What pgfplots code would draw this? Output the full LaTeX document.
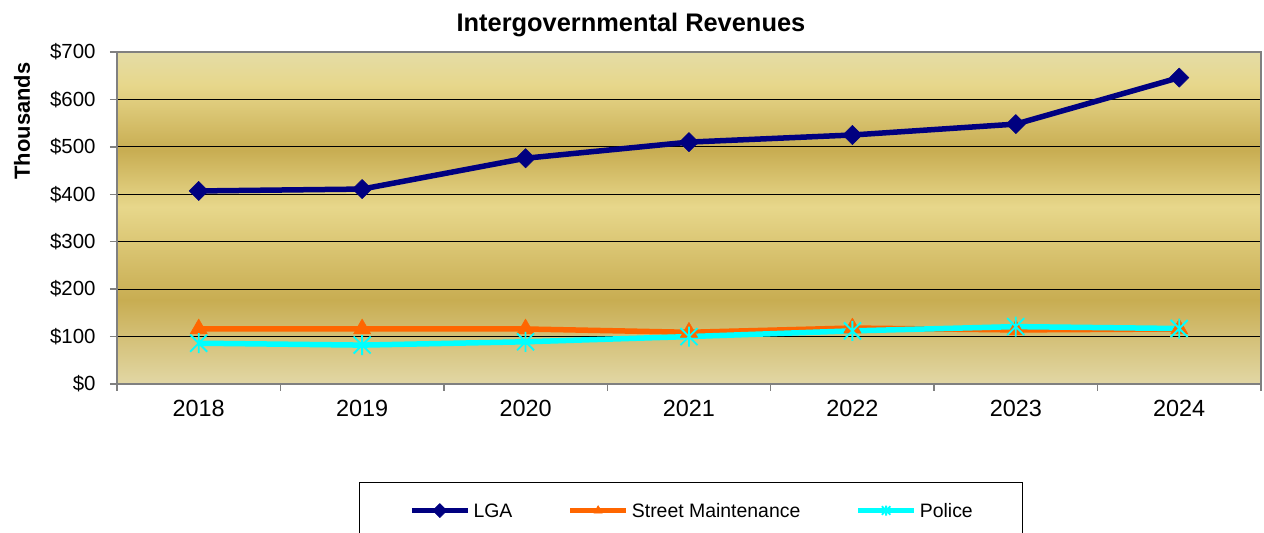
\documentclass[border=0pt]{standalone}
\usepackage{pgfplots}
\pgfplotsset{compat=1.18}
\usepackage{fontspec}
\setmainfont{Liberation Sans}
\definecolor{gtop}{RGB}{228,220,166}
\definecolor{glight}{RGB}{231,215,139}
\definecolor{gdark}{RGB}{200,173,82}
\definecolor{gbot}{RGB}{226,215,165}
\definecolor{lga}{RGB}{0,0,128}
\definecolor{stm}{RGB}{255,102,0}
\definecolor{pol}{RGB}{0,255,255}
\definecolor{axgray}{RGB}{128,128,128}
\pgfdeclareverticalshading{goldbg}{100bp}{color(0bp)=(gbot); color(25bp)=(gbot); color(37.7bp)=(gdark); color(51.7bp)=(glight); color(60.2bp)=(gdark); color(70bp)=(glight); color(75bp)=(gtop); color(100bp)=(gtop)}
\pgfdeclareplotmark{xstar}{%
 \pgfpathmoveto{\pgfqpoint{0pt}{\pgfplotmarksize}}\pgfpathlineto{\pgfqpoint{0pt}{-\pgfplotmarksize}}%
 \pgfpathmoveto{\pgfqpoint{-.85\pgfplotmarksize}{.85\pgfplotmarksize}}\pgfpathlineto{\pgfqpoint{.85\pgfplotmarksize}{-.85\pgfplotmarksize}}%
 \pgfpathmoveto{\pgfqpoint{-.85\pgfplotmarksize}{-.85\pgfplotmarksize}}\pgfpathlineto{\pgfqpoint{.85\pgfplotmarksize}{.85\pgfplotmarksize}}%
 \pgfusepathqstroke}
\begin{document}
\begin{tikzpicture}
\useasboundingbox (0,0) rectangle (1264bp,533bp);
\begin{axis}[
  at={(117bp,149bp)}, anchor=south west,
  width=1144bp, height=332bp, scale only axis,
  xmin=-0.5, xmax=6.5, ymin=0, ymax=700,
  xtick={-0.5,0.5,1.5,2.5,3.5,4.5,5.5,6.5},
  x tick label as interval,
  xticklabels={2018,2019,2020,2021,2022,2023,2024},
  ytick={0,100,200,300,400,500,600,700},
  yticklabels={\$0,\$100,\$200,\$300,\$400,\$500,\$600,\$700},
  xtick pos=bottom, ytick pos=left,
  tick align=outside, major tick length=7bp,
  tick style={axgray, line width=1.5bp},
  axis line style={axgray, line width=1.5bp},
  ymajorgrids, grid style={black, line width=0.9bp},
  axis background/.style={shading=goldbg},
  x tick label style={font=\fontsize{23.5}{28}\selectfont, yshift=-6bp},
  y tick label style={font=\fontsize{20.5}{24}\selectfont, xshift=-11bp},
  title={Intergovernmental Revenues},
  every axis title/.style={at={(0.4493,1)}, anchor=base, yshift=20bp, font=\bfseries\fontsize{25.5}{30}\selectfont},
  ylabel={Thousands},
  every axis y label/.style={at={(-0.0830,0.792)}, rotate=90, anchor=center, font=\bfseries\fontsize{22}{26}\selectfont},
  legend columns=3,
  legend style={at={(0.5017,-0.2952)}, anchor=north, draw=black, line width=1bp,
    inner xsep=50bp, inner ysep=21bp, font=\fontsize{19.5}{23}\selectfont,
    nodes={inner sep=0pt, text depth=0pt},
    /tikz/every even column/.append style={column sep=55bp},
    /tikz/every odd column/.append style={column sep=3bp}},
  legend image code/.code={\draw[#1, mark=none] (0bp,0bp) -- (56bp,0bp); \draw[#1, mark size=5bp] plot coordinates {(28bp,0bp)};},
]
\addplot[lga, line width=5.5bp, line join=round, mark=square*, mark size=6.8bp, mark options={rotate=45, fill=lga, draw=lga, line width=0.5bp}]
  coordinates {(0,407) (1,411) (2,476) (3,510) (4,525) (5,548) (6,646)};
\addlegendentry{LGA}
\addplot[stm, line width=5.5bp, line join=round, mark=triangle*, mark size=10bp, mark options={fill=stm, draw=stm, line width=0.5bp}]
  coordinates {(0,116) (1,116) (2,116) (3,109) (4,118) (5,114) (6,116)};
\addlegendentry{Street Maintenance}
\addplot[pol, line width=5.5bp, line join=round, mark=xstar, mark size=10bp, mark options={draw=pol, line width=1.8bp}]
  coordinates {(0,86) (1,82) (2,89) (3,100) (4,112) (5,121) (6,117)};
\addlegendentry{Police}
\end{axis}
\end{tikzpicture}
\end{document}
